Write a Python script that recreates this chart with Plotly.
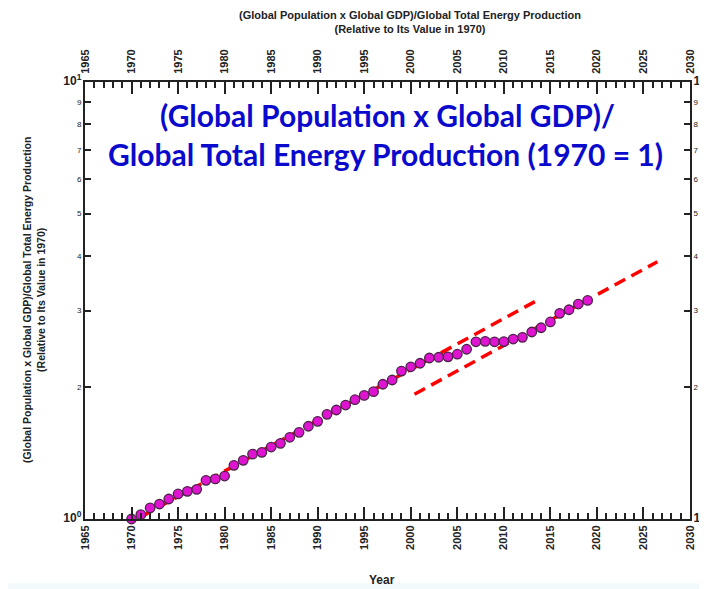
import plotly.graph_objects as go

years = list(range(1970, 2020))
ratio = [1.000, 1.023, 1.060, 1.082, 1.111, 1.141, 1.157, 1.169, 1.226, 1.235,
         1.254, 1.327, 1.362, 1.408, 1.421, 1.461, 1.490, 1.538, 1.579, 1.630,
         1.673, 1.736, 1.776, 1.823, 1.875, 1.918, 1.956, 2.034, 2.080, 2.180,
         2.230, 2.272, 2.336, 2.345, 2.350, 2.383, 2.446, 2.544, 2.550, 2.544,
         2.547, 2.581, 2.604, 2.679, 2.739, 2.824, 2.955, 3.012, 3.104, 3.163]

trend1_years = [1971.0, 2013.4]
trend1_values = [1.011, 3.15]
trend2_years = [2000.4, 2026.5]
trend2_values = [1.93, 3.879]

x_ticks = list(range(1965, 2031, 5))
y_ticks = [1, 2, 3, 4, 5, 6, 7, 8, 9, 10]
y_ticktext = ["<span style='font-size:12px'><b>10<sup>0</sup></b></span>", "2", "3", "4", "5", "6", "7", "8", "9",
              "<span style='font-size:12px'><b>10<sup>1</sup></b></span>"]

FONT = "Liberation Sans, Arial, sans-serif"
RED = "#ff0000"

fig = go.Figure()
fig.add_trace(go.Scatter(x=trend1_years, y=trend1_values, mode="lines",
                         line=dict(color=RED, width=3.5, dash="12px,7px"),
                         xaxis="x", yaxis="y", showlegend=False, hoverinfo="skip"))
fig.add_trace(go.Scatter(x=trend2_years, y=trend2_values, mode="lines",
                         line=dict(color=RED, width=3.5, dash="12px,7px"),
                         xaxis="x2", yaxis="y2", showlegend=False, hoverinfo="skip"))
fig.add_trace(go.Scatter(x=years, y=ratio, mode="markers", cliponaxis=False,
                         marker=dict(size=9.5, color="#df14d0", line=dict(color="#4a2448", width=1.3)),
                         xaxis="x2", yaxis="y2", showlegend=False))

tickfont = dict(family=FONT, size=11, color="#222", weight="bold")
common_x = dict(range=[1965, 2030], tickmode="array", tickvals=x_ticks, tickangle=-90,
                ticks="inside", ticklen=12, tickwidth=1.5, tickcolor="#222", automargin=False,
                minor=dict(ticks="inside", dtick=1, tick0=1965, ticklen=6, tickwidth=1.5, tickcolor="#222"),
                showline=True, linecolor="#222", linewidth=2, showgrid=False, zeroline=False,
                tickfont=tickfont)
common_y = dict(type="log", range=[0, 1], tickmode="array", tickvals=y_ticks, ticktext=y_ticktext,
                ticks="inside", ticklen=6, tickwidth=1.5, tickcolor="#222", automargin=False,
                showline=True, linecolor="#222", linewidth=2, showgrid=False, zeroline=False,
                tickfont=dict(family=FONT, size=8, color="#222"))

fig.update_layout(
    width=699, height=581,
    margin=dict(l=77, r=17, t=74, b=70, pad=0, autoexpand=False),
    paper_bgcolor="white", plot_bgcolor="white",
    xaxis=dict(**common_x, side="bottom", anchor="y"),
    xaxis2=dict(**common_x, side="top", overlaying="x", anchor="y2", ticklabelstandoff=4),
    yaxis=dict(**common_y, side="left", anchor="x"),
    yaxis2=dict(**common_y, side="right", overlaying="y", anchor="x2"),
    shapes=[dict(type="rect", xref="paper", yref="paper", x0=-0.2, x1=1.1,
                 y0=-0.2, y1=-0.147, fillcolor="#f2fafc", line=dict(width=0), layer="below")],
    annotations=[
        dict(text="(Global Population x Global GDP)/Global Total Energy Production<br>(Relative to Its Value in 1970)",
             xref="paper", yref="paper", x=0.537, y=1.138, xanchor="center", yanchor="middle",
             showarrow=False, font=dict(family=FONT, size=11, color="#222", weight="bold")),
        dict(text="(Global Population x Global GDP)/Global Total Energy Production<br>(Relative to Its Value in 1970)",
             xref="paper", yref="paper", x=-0.085, y=0.5, xanchor="center", yanchor="middle",
             textangle=-90, showarrow=False, font=dict(family=FONT, size=10.5, color="#222", weight="bold")),
        dict(text="Year", xref="paper", yref="paper", x=0.491, y=-0.1396, xanchor="center", yanchor="middle",
             showarrow=False, font=dict(family=FONT, size=12, color="#222", weight="bold")),
        dict(text="(Global Population x Global GDP)/", xref="paper", yref="paper", x=0.5008, y=0.9245,
             xanchor="center", yanchor="middle", showarrow=False,
             font=dict(family="Lato, sans-serif", size=30, color="#0a0acc", weight="bold")),
        dict(text="Global Total Energy Production (1970 = 1)", xref="paper", yref="paper", x=0.4975, y=0.836,
             xanchor="center", yanchor="middle", showarrow=False,
             font=dict(family="Lato, sans-serif", size=30, color="#0a0acc", weight="bold")),
    ],
)

fig.write_html("out.html")
